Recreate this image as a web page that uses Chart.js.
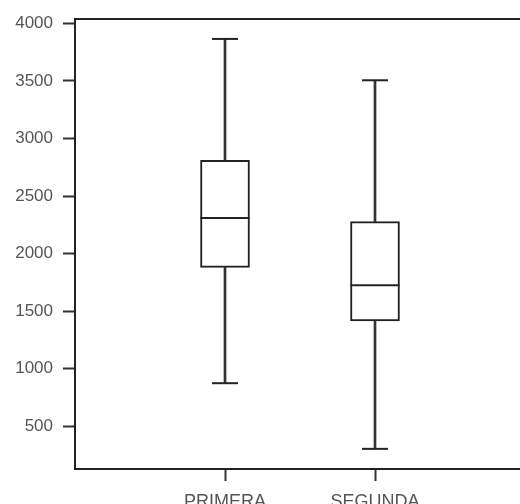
<!DOCTYPE html>
<html>
<head>
<meta charset="utf-8">
<script src="https://cdn.jsdelivr.net/npm/chart.js@4/dist/chart.umd.min.js"></script>
<style>
html,body{margin:0;padding:0;background:#fff;overflow:hidden;}
#wrap{width:530px;height:512px;}
</style>
</head>
<body>
<div id="wrap"><canvas id="boxChart" width="530" height="512"></canvas></div>
<script>
// groups, with empty slots at both ends so the boxes sit at 1/3 and 2/3 of the axis
const groups=['','PRIMERA','SEGUNDA',''];
const mins=[null,875,305,null];
const q1s=[null,1880,1416,null];
const medians=[null,2310,1726,null];
const q3s=[null,2810,2278,null];
const maxs=[null,3864,3505,null];
const yTicks=[500,1000,1500,2000,2500,3000,3500,4000];

const ink='#222';
const pair=(a,b)=>a.map((v,i)=>v===null?null:[v,b[i]]);

// top edge of the plot frame
const framePlugin={
  id:'frame',
  afterDraw(chart){
    const {ctx,chartArea}=chart;
    ctx.save();
    ctx.strokeStyle=ink;
    ctx.lineWidth=2;
    ctx.beginPath();
    ctx.moveTo(chartArea.left-1,chartArea.top);
    ctx.lineTo(chartArea.right,chartArea.top);
    ctx.stroke();
    ctx.restore();
  }
};

const whisker={type:'bar',grouped:false,barThickness:2,backgroundColor:'#333',borderWidth:0,order:3};
const marker={type:'line',showLine:false,pointStyle:'line',pointBorderColor:ink,pointBorderWidth:2,pointHoverRadius:0,order:1};
const family='"Liberation Sans", Arial, sans-serif';

new Chart(document.getElementById('boxChart'),{
  data:{
    labels:groups,
    datasets:[
      {...whisker,data:pair(mins,q1s)},
      {...whisker,data:pair(q3s,maxs)},
      {type:'bar',grouped:false,data:pair(q1s,q3s),barThickness:49,backgroundColor:'#fff',borderColor:ink,borderWidth:2,borderSkipped:false,order:2},
      {...marker,data:medians,pointRadius:24.5},
      {...marker,data:mins,pointRadius:13},
      {...marker,data:maxs,pointRadius:13}
    ]
  },
  options:{
    responsive:false,
    animation:false,
    layout:{autoPadding:false,padding:{top:19,right:5,left:0,bottom:0}},
    plugins:{legend:{display:false},tooltip:{enabled:false}},
    scales:{
      x:{
        offset:false,
        afterFit:s=>{s.height=43;s.paddingLeft=0;s.paddingRight=0;},
        grid:{offset:false,drawOnChartArea:false,tickLength:12,tickWidth:2,tickColor:c=>groups[c.index]?'#333':'rgba(0,0,0,0)'},
        border:{color:ink,width:2},
        ticks:{color:'#555',padding:10,maxRotation:0,autoSkip:false,font:{family,size:18}}
      },
      y:{
        min:130,
        max:4037,
        afterFit:s=>{s.width=75;s.paddingTop=0;s.paddingBottom=0;},
        afterBuildTicks:s=>{s.ticks=yTicks.map(v=>({value:v}));},
        grid:{drawOnChartArea:false,tickLength:12,tickWidth:2,tickColor:'#333'},
        border:{color:ink,width:2},
        ticks:{color:'#555',padding:10,font:{family,size:17},callback:v=>String(v)}
      }
    }
  },
  plugins:[framePlugin]
});
</script>
</body>
</html>
